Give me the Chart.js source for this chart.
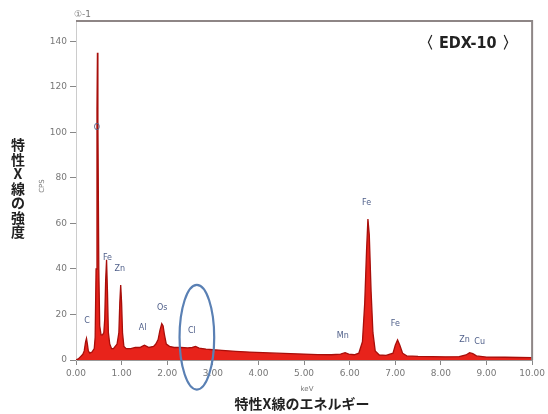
<!DOCTYPE html>
<html><head><meta charset="utf-8">
<script src="https://cdn.jsdelivr.net/npm/chart.js@4.4.1/dist/chart.umd.min.js"></script>
<style>html,body{margin:0;padding:0;background:#fff;}#c{display:block;}</style>
</head><body>
<canvas id="c" width="548" height="414"></canvas>
<script>
// Energy (keV) and intensity (CPS)
const energy = [0.00,0.05,0.10,0.15,0.18,0.21,0.23,0.25,0.27,0.30,0.35,0.40,0.42,0.44,0.46,0.47,0.48,0.50,0.52,0.55,0.58,0.61,0.63,0.65,0.67,0.69,0.71,0.74,0.78,0.82,0.86,0.90,0.94,0.96,0.98,1.00,1.02,1.05,1.10,1.20,1.30,1.40,1.45,1.50,1.55,1.60,1.70,1.75,1.80,1.84,1.88,1.91,1.94,1.98,2.05,2.15,2.30,2.45,2.55,2.62,2.70,2.85,3.00,3.20,3.50,3.80,4.10,4.40,4.70,5.00,5.30,5.60,5.80,5.90,5.98,6.10,6.20,6.28,6.33,6.37,6.40,6.43,6.47,6.51,6.56,6.65,6.80,6.95,7.00,7.05,7.10,7.16,7.25,7.50,7.80,8.10,8.40,8.55,8.63,8.70,8.78,9.00,9.40,9.70,10.00];
const cps = [0,0.5,1.5,2.5,4,8,9.5,7,4,3,3.5,5,10,40,110,135,105,40,15,11,11,12,18,35,44,30,12,7,5,5,6,7,12,25,33,25,12,6,5,5,5.5,5.5,6,6.5,6,5.5,6,7,9,13,16,15,11,7,6,5.5,5.5,5.3,5.5,6,5.2,4.8,4.5,4.2,3.8,3.5,3.2,3.0,2.8,2.6,2.4,2.3,2.6,3.2,2.6,2.3,3,8,25,48,62,55,30,12,4,2.2,2.0,3,6.5,8.8,6.5,3,1.8,1.6,1.5,1.4,1.5,2.2,3.2,2.8,1.8,1.3,1.2,1.1,1.0];
const yTicks = [0,20,40,60,80,100,120,140];
const xTicks = [0,1,2,3,4,5,6,7,8,9,10];
const elementNames = ["O","Fe","Zn","C","Al","Os","Cl","Mn","Fe","Fe","Zn","Cu"];
const elementAt = [[0.46,102],[0.69,45],[0.96,40],[0.24,17],[1.46,14],[1.89,23],[2.54,13],[5.85,10.5],[6.37,69],[7.0,16],[8.52,9],[8.85,8]];
const titleText = "①-1";
const sampleText = "〈 EDX-10 〉";
const yTitle = "特性X線の強度";
const xTitle = "特性X線のエネルギー";

const points = energy.map((e,i)=>({x:e,y:cps[i]}));

const deco = {
  id:'deco',
  afterDraw(chart){
    const ctx = chart.ctx, a = chart.chartArea;
    const xs = chart.scales.x, ys = chart.scales.y;
    ctx.save();
    ctx.strokeStyle = '#8e8686'; ctx.lineWidth = 2;
    ctx.beginPath(); ctx.moveTo(a.left, a.top); ctx.lineTo(a.right, a.top); ctx.lineTo(a.right, a.bottom); ctx.stroke();
    ctx.fillStyle = '#777'; ctx.font = '9px "DejaVu Sans"'; ctx.textBaseline='middle'; ctx.textAlign='left';
    ctx.fillText(titleText, 74, 15);
    ctx.fillStyle = '#222'; ctx.font = 'bold 16px "DejaVu Sans Condensed", "DejaVu Sans"'; ctx.textAlign='left';
    ctx.fillText(sampleText, 418, 44);
    ctx.fillStyle = '#50608a'; ctx.font = '8px "DejaVu Sans"'; ctx.textAlign='center';
    elementNames.forEach((n,i)=>{
      ctx.fillText(n, xs.getPixelForValue(elementAt[i][0]), ys.getPixelForValue(elementAt[i][1]));
    });
    const cx = xs.getPixelForValue(2.65), cy = ys.getPixelForValue(10);
    const rx = xs.getPixelForValue(2.65+0.38)-cx, ry = cy-ys.getPixelForValue(10+23);
    ctx.strokeStyle = '#5a80b4'; ctx.lineWidth = 2.2;
    ctx.beginPath(); ctx.ellipse(cx, cy, rx, ry, 0, 0, Math.PI*2); ctx.stroke();
    ctx.fillStyle = '#222'; ctx.font = 'bold 14px "Noto Sans CJK JP"'; ctx.textAlign='center';
    [...yTitle].forEach((ch,i)=>{ ctx.fillText(ch, 18, 145 + i*14.5); });
    ctx.save(); ctx.translate(42, 186); ctx.rotate(-Math.PI/2);
    ctx.fillStyle='#777'; ctx.font='7px "DejaVu Sans"'; ctx.fillText('CPS',0,0); ctx.restore();
    ctx.fillStyle='#777'; ctx.font='7px "DejaVu Sans"'; ctx.fillText('keV', 307, 389);
    ctx.fillStyle = '#222'; ctx.font = 'bold 14px "Noto Sans CJK JP"';
    ctx.fillText(xTitle, 302, 404);
    ctx.restore();
  }
};

new Chart(document.getElementById('c'), {
  type:'scatter',
  data:{datasets:[{
    data:points, showLine:true, fill:'origin', tension:0,
    pointRadius:0, borderColor:'#a80e0a', borderWidth:1.3,
    backgroundColor:'#e8231b'
  }]},
  options:{
    responsive:false, animation:false,
    layout:{padding:{left:0,right:14,top:21,bottom:0}},
    plugins:{legend:{display:false},tooltip:{enabled:false}},
    scales:{
      x:{type:'linear', min:0, max:10,
        afterBuildTicks(s){ s.ticks = xTicks.map(v=>({value:v})); },
        afterFit(s){ s.height = 54; },
        grid:{drawOnChartArea:false, drawTicks:true, tickLength:5, color:'#888'},
        border:{display:true, color:'#999', width:1},
        ticks:{color:'#777', font:{size:9, family:'"DejaVu Sans"'}, padding:3, maxRotation:0,
          callback:(v)=>Number(v).toFixed(2)}
      },
      y:{type:'linear', min:0, max:149,
        afterBuildTicks(s){ s.ticks = yTicks.map(v=>({value:v})); },
        afterFit(s){ s.width = 76; },
        grid:{drawOnChartArea:false, drawTicks:true, tickLength:6, color:'#888'},
        border:{display:true, color:'#ccc', width:1},
        ticks:{color:'#777', font:{size:9, family:'"DejaVu Sans"'}, padding:3}
      }
    }
  },
  plugins:[deco]
});
</script>
</body></html>
